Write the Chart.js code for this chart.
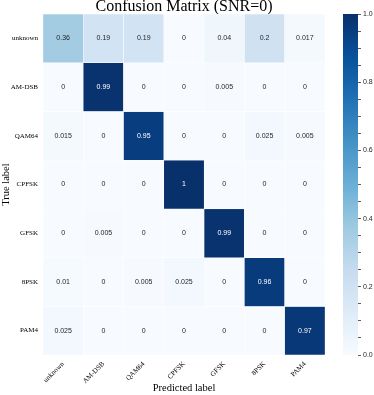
<html>
<head>
<title>Confusion Matrix</title>
<style>
  body { margin: 0; background: #fff; }
  #wrap { position: relative; width: 374px; height: 395px; }
  #main { position: absolute; left: 0; top: 0; width: 374px; height: 395px; }
  #bar { position: absolute; left: 330px; top: 0; width: 44px; height: 395px; }
</style>
<script src="https://cdn.jsdelivr.net/npm/chart.js"></script>
</head>
<body>
<div id="wrap">
  <div id="main"><canvas id="cm"></canvas></div>
  <div id="bar"><canvas id="cbar"></canvas></div>
</div>
<script>
// labels
const predLabels = ["unknown", "AM-DSB", "QAM64", "CPFSK", "GFSK", "8PSK", "PAM4"];
const trueLabels = ["unknown", "AM-DSB", "QAM64", "CPFSK", "GFSK", "8PSK", "PAM4"];

// one row per true label
const rowUnknown = [0.36, 0.19, 0.19, 0, 0.04, 0.2, 0.017];
const rowAmDsb   = [0, 0.99, 0, 0, 0.005, 0, 0];
const rowQam64   = [0.015, 0, 0.95, 0, 0, 0.025, 0.005];
const rowCpfsk   = [0, 0, 0, 1, 0, 0, 0];
const rowGfsk    = [0, 0.005, 0, 0, 0.99, 0, 0];
const row8psk    = [0.01, 0, 0.005, 0.025, 0, 0.96, 0];
const rowPam4    = [0.025, 0, 0, 0, 0, 0, 0.97];
const rows = [rowUnknown, rowAmDsb, rowQam64, rowCpfsk, rowGfsk, row8psk, rowPam4];

const colorbarTicks = [0, 0.2, 0.4, 0.6, 0.8, 1.0];

// matplotlib "Blues"
const bluesStops = ["#f7fbff", "#deebf7", "#c6dbef", "#9ecae1", "#6baed6", "#4292c6", "#2171b5", "#08519c", "#08306b"];

function hexToRgb(h) {
  return [parseInt(h.substr(1, 2), 16), parseInt(h.substr(3, 2), 16), parseInt(h.substr(5, 2), 16)];
}
function blues(v) {
  v = Math.max(0, Math.min(1, v));
  let p = v * (bluesStops.length - 1);
  let i = Math.min(Math.floor(p), bluesStops.length - 2);
  let t = p - i;
  let a = hexToRgb(bluesStops[i]), b = hexToRgb(bluesStops[i + 1]);
  let c = a.map((x, k) => Math.round(x + (b[k] - x) * t));
  return "rgb(" + c.join(",") + ")";
}

// cell value text
const cellText = {
  id: "cellText",
  afterDatasetsDraw(chart) {
    const ctx = chart.ctx;
    ctx.save();
    ctx.font = "7px 'Liberation Sans', Arial, sans-serif";
    ctx.textAlign = "center";
    ctx.textBaseline = "middle";
    chart.data.datasets.forEach((ds, r) => {
      const meta = chart.getDatasetMeta(r);
      meta.data.forEach((el, c) => {
        const v = rows[r][c];
        ctx.fillStyle = v > 0.6 ? "#ffffff" : "#262626";
        ctx.fillText(String(v), el.x, (el.y + el.base) / 2);
      });
    });
    ctx.restore();
  }
};

new Chart(document.getElementById("cm"), {
  type: "bar",
  data: {
    labels: predLabels,
    datasets: trueLabels.map((t, r) => ({
      label: t,
      data: predLabels.map(() => [r, r + 1]),
      backgroundColor: rows[r].map(blues),
      borderColor: "#ffffff",
      borderWidth: 0.5,
      borderSkipped: false,
      barPercentage: 1,
      categoryPercentage: 1,
      grouped: false
    }))
  },
  options: {
    responsive: true,
    maintainAspectRatio: false,
    animation: false,
    layout: { padding: { left: 0, right: 49, top: 0, bottom: 0 } },
    plugins: {
      legend: { display: false },
      tooltip: { enabled: false },
      title: {
        display: true,
        fullSize: false,
        text: "Confusion Matrix (SNR=0)",
        color: "#000",
        font: { family: "'Liberation Serif', 'Times New Roman', serif", size: 16, weight: "normal", lineHeight: 0.88 },
        padding: { top: 0, bottom: 0 }
      }
    },
    scales: {
      x: {
        grid: { display: false, drawTicks: false },
        border: { display: false },
        ticks: {
          color: "#000",
          font: { family: "'Liberation Serif', 'Times New Roman', serif", size: 7 },
          minRotation: 45, maxRotation: 45, padding: 5
        },
        title: {
          display: true, text: "Predicted label", color: "#000",
          font: { family: "'Liberation Serif', 'Times New Roman', serif", size: 10.5 },
          padding: { top: 2, bottom: 0 }
        },
        afterFit(scale) { scale.height = 40; }
      },
      y: {
        type: "linear",
        min: 0, max: 7, reverse: true,
        grid: { display: false, drawTicks: false },
        border: { display: false },
        afterBuildTicks(scale) {
          scale.ticks = trueLabels.map((_, i) => ({ value: i + 0.5 }));
        },
        ticks: {
          color: "#000",
          padding: 5,
          font: { family: "'Liberation Serif', 'Times New Roman', serif", size: 7 },
          callback: (v) => trueLabels[Math.floor(v)]
        },
        title: {
          display: true, text: "True label", color: "#000",
          font: { family: "'Liberation Serif', 'Times New Roman', serif", size: 10.5 },
          padding: { top: 0, bottom: 0 }
        },
        afterFit(scale) { scale.width = 43; }
      }
    }
  },
  plugins: [cellText]
});

// colorbar
new Chart(document.getElementById("cbar"), {
  type: "bar",
  data: {
    labels: ["cb"],
    datasets: [{
      data: [[0, 1]],
      barPercentage: 1,
      categoryPercentage: 1,
      backgroundColor: (c) => {
        const a = c.chart.chartArea;
        if (!a) return bluesStops[0];
        const g = c.chart.ctx.createLinearGradient(0, a.bottom, 0, a.top);
        bluesStops.forEach((s, i) => g.addColorStop(i / (bluesStops.length - 1), s));
        return g;
      }
    }]
  },
  options: {
    responsive: true,
    maintainAspectRatio: false,
    animation: false,
    layout: { padding: { left: 13, right: 0, top: 14, bottom: 40 } },
    plugins: { legend: { display: false }, tooltip: { enabled: false } },
    scales: {
      x: { display: false },
      y: {
        position: "right",
        min: 0, max: 1,
        grid: { drawOnChartArea: false, tickLength: 3, tickColor: "#333", tickWidth: 0.8 },
        border: { display: false },
        ticks: {
          stepSize: 0.05,
          autoSkip: false,
          padding: 2,
          color: "#262626",
          font: { family: "'Liberation Sans', Arial, sans-serif", size: 7 },
          callback: (v) => {
            const m = colorbarTicks.find((t) => Math.abs(t - v) < 1e-6);
            return m === undefined ? "" : m.toFixed(1);
          }
        },
        afterFit(scale) { scale.width = 16; }
      }
    }
  }
});
</script>
</body>
</html>
